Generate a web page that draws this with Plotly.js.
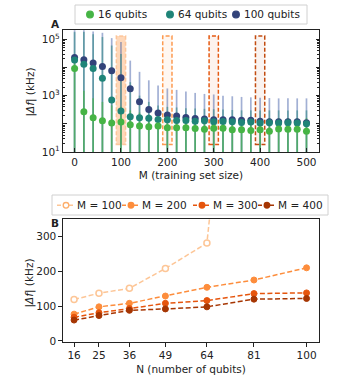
<!DOCTYPE html>
<html>
<head>
<meta charset="utf-8">
<script src="https://cdn.plot.ly/plotly-3.0.1.min.js"></script>
<style>
  html, body { margin: 0; padding: 0; background: #fff; }
  #chart { width: 340px; height: 380px; }
</style>
</head>
<body>
<div id="chart"></div>
<script>
// Panel A: training set size vs error, per system size
var trainSize = [0,20,40,60,80,100,120,140,160,180,200,220,240,260,280,300,320,340,360,380,400,420,440,460,480,500];

var err16 = [9200,268,164,128,106,117,92,83,78,83,72,72,72,68,64,70,70,61,61,58,61,55,66,64,64,54];
var err64 = [18300,13100,9200,4160,700,283,178,164,157,143,139,132,132,124,128,118,121,118,112,115,107,110,107,110,107,101];
var err100 = [22700,18800,14300,10900,7600,4280,1740,611,325,240,204,188,168,155,147,139,139,139,135,135,124,118,118,118,118,109];

// upper end of the spread of individual samples (lower end is off-axis)
var top16 = [20000,1500,800,600,450,400,300,250,200,190,180,175,170,170,165,165,160,160,160,160,160,160,160,160,160,160];
var top64 = [180000,180000,150000,120000,60000,30000,3000,1000,600,450,400,380,360,350,340,330,320,310,300,300,300,300,300,300,300,300];
var top100 = [210000,210000,190000,170000,110000,80000,17500,7000,3500,2300,1800,1600,1400,1250,1150,1100,1000,950,900,870,850,820,800,800,800,800];
var spreadLow = 3;

// Panel B: error vs number of qubits, per training set size
var nQubits = [16,25,36,49,64,81,100];
var mValues = [100,200,300,400];
var errM100 = [119,137,151,208,281,1800,3000];
var errM200 = [77,98,108,129,154,175,210];
var errM300 = [68,81,93,108,116,136,138];
var errM400 = [60,73,88,92,98,120,122];

var qLabels = ['16 qubits', '64 qubits', '100 qubits'];
var qColors = ['#46b445', '#1f8478', '#33437a'];
var qAlpha = ['rgba(70,180,69,0.6)', 'rgba(31,132,120,0.5)', 'rgba(70,98,170,0.5)'];
var mColors = ['#fdae6b', '#fd8d3c', '#e6550d', '#a63603'];

// pixel -> paper helpers (plot area 63..319 x, 30..342 y)
var L = 63, W = 256, T = 30, H = 312;
function px(x) { return (x - L) / W; }
function py(y) { return (T + H - y) / H; }

function spreadTrace(tops, col) {
  return {
    type: 'scatter', mode: 'markers', x: trainSize, y: tops,
    xaxis: 'x', yaxis: 'y', showlegend: false, hoverinfo: 'skip',
    marker: {size: 1, opacity: 0},
    error_y: {
      type: 'data', symmetric: false,
      array: tops.map(function () { return 0; }),
      arrayminus: tops.map(function (t) { return t - spreadLow; }),
      color: col, thickness: 1.7, width: 0
    }
  };
}

function meanTrace(vals, i) {
  return {
    type: 'scatter', mode: 'markers', x: trainSize, y: vals,
    xaxis: 'x', yaxis: 'y', name: qLabels[i], showlegend: false,
    marker: {color: qColors[i], size: 7}
  };
}

var data = [
  spreadTrace(top100, qAlpha[2]),
  spreadTrace(top64, qAlpha[1]),
  spreadTrace(top16, qAlpha[0]),
  meanTrace(err100, 2),
  meanTrace(err64, 1),
  meanTrace(err16, 0)
];

var seriesB = [errM100, errM200, errM300, errM400];
var dashB = '5px,2.5px';
seriesB.forEach(function (vals, i) {
  var c = mColors[i];
  data.push({
    type: 'scatter', mode: 'lines+markers', x: nQubits, y: vals,
    xaxis: 'x2', yaxis: 'y2', showlegend: false,
    name: 'M = ' + mValues[i],
    opacity: i === 0 ? 0.7 : 1,
    line: {color: c, width: 1.5, dash: dashB},
    marker: i === 0
      ? {symbol: 'circle', size: 6, color: '#fff', line: {color: c, width: 1.5}}
      : {symbol: 'circle', size: 6, color: c, line: {color: c, width: 1}}
  });
});

// highlight boxes in panel A for each M used in panel B
var boxFill = ['rgba(253,190,140,0.6)', 'rgba(253,141,60,0.07)', 'rgba(230,85,13,0.07)', 'rgba(166,54,3,0.06)'];
var boxLine = ['rgba(253,190,140,0.8)', '#fd9a50', '#e55a12', '#c24c10'];
var shapes = mValues.map(function (m, i) {
  return {
    type: 'rect', xref: 'x', yref: 'y', layer: 'below',
    x0: m - 10, x1: m + 10, y0: 18.6, y1: 130000,
    fillcolor: boxFill[i],
    line: {color: boxLine[i], width: 1.5, dash: '4px,2px'}
  };
});

var annotations = [
  {text: '<b>A</b>', xref: 'paper', yref: 'paper', x: px(55), y: py(24), xanchor: 'center', yanchor: 'middle', showarrow: false, font: {size: 10.5}},
  {text: '<b>B</b>', xref: 'paper', yref: 'paper', x: px(55), y: py(223), xanchor: 'center', yanchor: 'middle', showarrow: false, font: {size: 10.5}},
  {text: '|<i>Δf</i>| (kHz)', xref: 'paper', yref: 'paper', x: px(22), y: py(92), textangle: -90, xanchor: 'left', yanchor: 'middle', showarrow: false, font: {size: 10.5}},
  {text: '|<i>Δf</i>| (kHz)', xref: 'paper', yref: 'paper', x: px(20), y: py(283), textangle: -90, xanchor: 'left', yanchor: 'middle', showarrow: false, font: {size: 10.5}}
];

function legendBox(x0, x1, y0, y1) {
  shapes.push({type: 'rect', xref: 'paper', yref: 'paper', layer: 'above',
    x0: px(x0), x1: px(x1), y0: py(y1), y1: py(y0),
    fillcolor: 'rgba(255,255,255,0.85)', line: {color: '#d0d0d0', width: 1}});
}
function legendDot(cx, cy, r, fill, line) {
  shapes.push({type: 'circle', xref: 'paper', yref: 'paper', layer: 'above',
    x0: px(cx - r), x1: px(cx + r), y0: py(cy + r), y1: py(cy - r),
    fillcolor: fill, line: {color: line, width: 1.3}});
}
function legendText(x, y, txt) {
  annotations.push({text: txt, xref: 'paper', yref: 'paper', x: px(x), y: py(y),
    xanchor: 'left', yanchor: 'middle', showarrow: false, font: {size: 10.5, color: '#222'}});
}

// legend A
legendBox(75, 307, 5, 24);
[90, 170, 236].forEach(function (cx, i) {
  legendDot(cx, 14.5, 3.3, qColors[i], qColors[i]);
  legendText(cx + 6, 14.5, qLabels[i]);
});

// legend B
legendBox(52, 328, 195, 215);
[66, 131, 202, 267].forEach(function (cx, i) {
  var c = mColors[i];
  shapes.push({type: 'line', xref: 'paper', yref: 'paper', layer: 'above',
    x0: px(cx - 9), x1: px(cx + 9), y0: py(205.3), y1: py(205.3),
    opacity: i === 0 ? 0.7 : 1, line: {color: c, width: 1.5, dash: '4px,2px'}});
  legendDot(cx, 205.3, 2.8, i === 0 ? '#fff' : c, c);
  legendText(cx + 9, 205.3, 'M = ' + mValues[i]);
});

var minorVals = [];
[10, 100, 1000, 10000, 100000].forEach(function (d) {
  for (var k = 2; k < 10; k++) minorVals.push(d * k);
});

var axisBase = {
  showgrid: false, zeroline: false, showline: true, linecolor: '#222', linewidth: 1.1,
  mirror: true, tickcolor: '#222', tickfont: {size: 10.5, color: '#222'}
};

var layout = {
  width: 340, height: 380,
  font: {family: 'DejaVu Sans', size: 10.5, color: '#222'},
  paper_bgcolor: '#fff', plot_bgcolor: '#fff',
  showlegend: false,
  margin: {l: L, r: 340 - L - W, t: T, b: 380 - T - H},
  xaxis: Object.assign({}, axisBase, {
    domain: [0, 1], anchor: 'y', range: [-25, 527], tickvals: [0,100,200,300,400,500],
    ticks: 'inside', ticklen: 3.5,
    title: {text: 'M (training set size)', standoff: 5, font: {size: 10.5}}
  }),
  yaxis: Object.assign({}, axisBase, {
    domain: [0.609, 1], anchor: 'x', type: 'log', range: [1, 5.33],
    tickvals: [10, 100, 1000, 10000, 100000],
    ticktext: ['10<sup>1</sup>', '', '10<sup>3</sup>', '', '10<sup>5</sup>'],
    ticks: 'inside', ticklen: 3.5, mirror: 'allticks',
    minor: {tickmode: 'array', tickvals: minorVals, ticks: 'inside', ticklen: 2, tickcolor: '#222'}
  }),
  xaxis2: Object.assign({}, axisBase, {
    domain: [0, 1], anchor: 'y2', range: [12, 104.5], tickvals: nQubits,
    ticks: 'outside', ticklen: 3.5,
    title: {text: 'N (number of qubits)', standoff: 5, font: {size: 10.5}}
  }),
  yaxis2: Object.assign({}, axisBase, {
    domain: [0, 0.394], anchor: 'x2', range: [-3, 350], tickvals: [0,100,200,300],
    ticks: 'outside', ticklen: 3.5
  }),
  shapes: shapes,
  annotations: annotations
};

Plotly.newPlot('chart', data, layout, {displayModeBar: false, staticPlot: true});
</script>
</body>
</html>
